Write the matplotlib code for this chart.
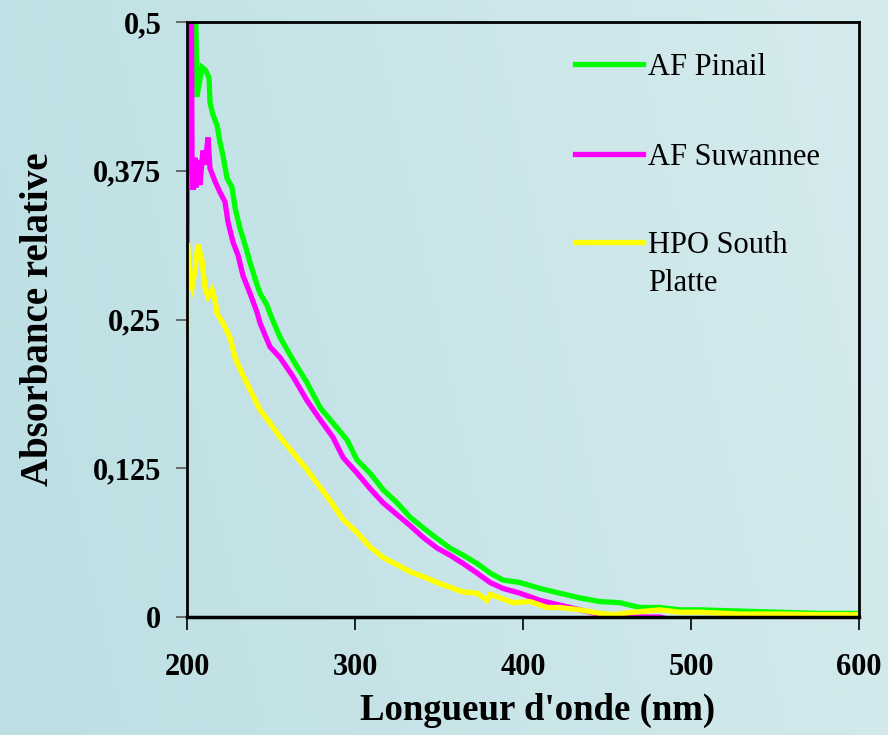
import numpy as np
import matplotlib
matplotlib.use("Agg")
import matplotlib.pyplot as plt

# values (nm, relative absorbance)
pinail_nm = [200, 204, 205.9, 208.9, 210.7, 211.9, 213.1, 213.7, 215.5, 217.9, 219.6, 221.4,
             223.8, 226.8, 228.6, 231.5, 234.5, 237.5, 241.7, 243.5, 247.6, 249.4, 255.4,
             263.1, 271.4, 279.2, 286.9, 295.2, 301.2, 308.9, 316.7, 325.0, 332.7, 340.5,
             348.8, 356.5, 364.3, 372.6, 380.4, 388.1, 398.2, 410.1, 422.0, 433.9, 445.8,
             457.7, 469.6, 481.5, 493.5, 505.4, 529, 553, 577, 600]
pinail_abs = [0.60, 0.62, 0.437, 0.462, 0.460, 0.457, 0.453, 0.432, 0.422, 0.413, 0.399, 0.388,
              0.369, 0.361, 0.344, 0.327, 0.313, 0.298, 0.279, 0.272, 0.262, 0.255, 0.235,
              0.216, 0.197, 0.176, 0.163, 0.149, 0.132, 0.121, 0.107, 0.096, 0.084, 0.075,
              0.066, 0.058, 0.052, 0.045, 0.037, 0.031, 0.029, 0.024, 0.020, 0.016, 0.013,
              0.012, 0.008, 0.008, 0.006, 0.006, 0.005, 0.004, 0.003, 0.003]

suwannee_nm = [200, 200.6, 202.4, 203.0, 203.6, 204.8, 205.4, 206.5, 207.7, 209.5, 210.7,
               212.5, 213.7, 216.7, 219.6, 222.6, 224.4, 227.4, 230.4, 233.3, 237.5, 241.7,
               243.5, 249.4, 255.4, 263.1, 271.4, 279.2, 286.9, 292.9, 301.2, 308.9, 316.7,
               325.0, 332.7, 340.5, 348.8, 356.5, 364.3, 372.6, 380.4, 388.1, 398.2, 410.1,
               422.0, 433.9, 445.8, 457.7, 481.5, 490, 556, 557, 600]
suwannee_abs = [0.314, 0.60, 0.60, 0.384, 0.359, 0.386, 0.361, 0.384, 0.363, 0.392, 0.380,
                0.403, 0.377, 0.366, 0.357, 0.349, 0.332, 0.315, 0.304, 0.287, 0.272, 0.256,
                0.247, 0.227, 0.218, 0.202, 0.182, 0.166, 0.151, 0.134, 0.121, 0.108, 0.096,
                0.086, 0.077, 0.067, 0.058, 0.052, 0.045, 0.037, 0.029, 0.024, 0.020, 0.014,
                0.010, 0.006, 0.002, 0.000, 0.000, -0.003, -0.003, 0.0008, -0.003]

platte_nm = [200, 200.3, 201.5, 203.0, 204.8, 206.5, 208.9, 210.7, 212.5, 214.9, 216.7,
             217.9, 221.4, 225.6, 228.6, 232.7, 237.5, 243.5, 249.4, 255.4, 263.1, 271.4,
             275.0, 285.1, 292.9, 301.2, 308.9, 316.7, 325.0, 332.7, 340.5, 348.8, 356.5,
             364.3, 372.6, 378.6, 380.4, 384.5, 394.0, 404.2, 414.3, 422.0, 433.9, 445.8,
             453.6, 465.5, 481.5, 493.5, 505.4, 529, 553, 577, 600]
platte_abs = [0.241, 0.314, 0.283, 0.277, 0.292, 0.313, 0.300, 0.277, 0.269, 0.275, 0.266,
              0.255, 0.247, 0.235, 0.218, 0.205, 0.191, 0.174, 0.163, 0.151, 0.138, 0.124,
              0.117, 0.098, 0.082, 0.071, 0.059, 0.050, 0.044, 0.038, 0.034, 0.029, 0.025,
              0.021, 0.020, 0.014, 0.019, 0.017, 0.012, 0.013, 0.008, 0.008, 0.006, 0.003,
              0.002, 0.004, 0.006, 0.004, 0.004, 0.0025, 0.0025, 0.002, 0.002]

series_names = ["AF Pinail", "AF Suwannee", "HPO South\nPlatte"]
series_colors = ["#00FF00", "#FF00FF", "#FFFF00"]

y_ticks = [0, 0.125, 0.25, 0.375, 0.5]
y_tick_labels = ["0", "0,125", "0,25", "0,375", "0,5"]
x_ticks = [200, 300, 400, 500, 600]

fig = plt.figure(figsize=(8.88, 7.35), dpi=100)

# gradient background, darker on the left, lighter to the top right
bg = fig.add_axes([0, 0, 1, 1], zorder=-10)
gx = np.linspace(0, 1, 256)[None, :]
gy = np.linspace(0, 1, 256)[:, None]
left_col = np.array([188, 223, 227]) / 255
right_col = np.array([214, 235, 238]) / 255
t = np.clip(0.85 * gx + 0.15 * (1 - gy), 0, 1)
grad = left_col[None, None, :] * (1 - t[..., None]) + right_col[None, None, :] * t[..., None]
bg.imshow(grad, aspect="auto", extent=[0, 1, 0, 1], origin="upper")
bg.axis("off")

ax = fig.add_axes([187 / 888, 1 - 617 / 735, (859 - 187) / 888, (617 - 22) / 735])
ax.set_facecolor("none")

for xs, ys, c in zip([pinail_nm, suwannee_nm, platte_nm],
                     [pinail_abs, suwannee_abs, platte_abs], series_colors):
    ax.plot(xs, ys, color=c, lw=3.8, solid_joinstyle="miter")

ax.set_xlim(200, 600)
ax.set_ylim(0, 0.5)
ax.set_xticks(x_ticks)
ax.set_xticklabels([str(v) for v in x_ticks], family="Liberation Serif",
                   fontweight="bold", fontsize=22)
ax.set_yticks(y_ticks)
ax.set_yticklabels(y_tick_labels, family="Liberation Serif", fontweight="bold", fontsize=22)
ax.tick_params(axis="x", direction="out", length=9, width=1.2, color="black", pad=17)
ax.tick_params(axis="y", direction="out", length=8, width=1.2, color="#555555", pad=10.5)

for s in ax.spines.values():
    s.set_color("black")
    s.set_linewidth(2)
ax.spines["bottom"].set_linewidth(2.5)

ax.set_xlabel("Longueur d'onde (nm)", family="Liberation Serif", fontweight="bold",
              fontsize=26.5)
ax.xaxis.set_label_coords(0.522, -0.128)
ax.set_ylabel("Absorbance relative", family="Liberation Serif", fontweight="bold",
              fontsize=28)
ax.yaxis.set_label_coords(-0.193, 0.5)

# legend drawn by hand to keep the wide spacing of the original
leg_y = [64, 154, 242]
tx = (648 - 187) / 672
for name, c, yp in zip(series_names, series_colors, leg_y):
    ya = 1 - (yp - 22) / 595
    ax.plot([(575 - 187) / 672, (643 - 187) / 672], [ya, ya], transform=ax.transAxes,
            color=c, lw=3.8, clip_on=False)
    for k, line in enumerate(name.split("\n")):
        ax.text(tx, ya - k * 38 / 595, line, transform=ax.transAxes,
                family="Liberation Serif", fontsize=22, va="center_baseline")

fig.savefig("out.png", dpi=100)
